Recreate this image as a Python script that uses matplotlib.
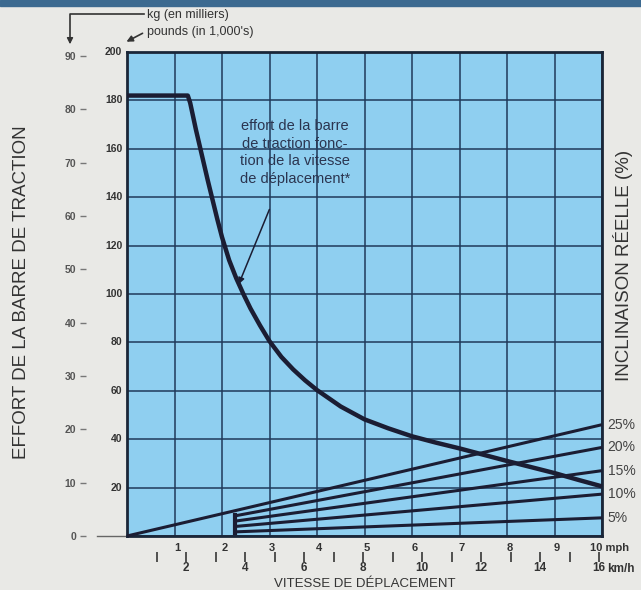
import matplotlib.pyplot as plt
from matplotlib.patches import Rectangle
from matplotlib.lines import Line2D

plt.rcParams['font.family'] = ['Liberation Sans', 'DejaVu Sans']

# effort de la barre de traction (milliers de livres) en fonction de la vitesse (mph)
vitesse_mph = [0, 1.28, 1.33, 1.45, 1.7, 1.9, 2.0, 2.15, 2.3, 2.45, 2.6, 2.8, 3.0, 3.25, 3.5,
               3.75, 4.0, 4.5, 5.0, 5.5, 6.0, 6.5, 7.0, 7.5, 8.0, 8.5, 9.0, 9.5, 10.0]
effort_lb = [182, 182, 179, 168, 147, 131, 123.5, 114, 106.5, 100, 94, 87, 80.5, 74, 68.8,
             64.3, 60.3, 53.5, 48.2, 44.5, 41.2, 38.6, 36.2, 33.6, 31, 28.5, 26, 23.2, 20.5]

# droites d'inclinaison : valeur a 10 mph et debut du trace (mph)
pentes = ["25%", "20%", "15%", "10%", "5%"]
pente_fin = [46.0, 36.6, 27.0, 17.3, 7.5]
pente_debut = [0.0, 2.27, 2.27, 2.27, 2.27]

mph_ticks = [1, 2, 3, 4, 5, 6, 7, 8, 9]
kmh_ticks = list(range(1, 17))
kg_ticks = [0, 10, 20, 30, 40, 50, 60, 70, 80, 90]
lb_ticks = [20, 40, 60, 80, 100, 120, 140, 160, 180, 200]

fig = plt.figure(figsize=(6.41, 5.90), dpi=100, facecolor='#e9e9e6')
ax = fig.add_axes([127 / 641, 54 / 590, 475 / 641, 484 / 590])
ax.set_facecolor('#8fcff0')
ax.set_xlim(0, 10)
ax.set_ylim(0, 200)

# bandeau en haut
fig.patches.append(Rectangle((0, 1 - 6 / 590), 1, 6 / 590, transform=fig.transFigure,
                             color='#3c6a90', zorder=0))

grid_col = '#1f3a5a'
ax.set_xticks(range(0, 11))
ax.set_yticks(range(0, 201, 20))
ax.grid(True, color=grid_col, lw=1.1)
ax.tick_params(length=0, labelbottom=False, labelleft=False)
for s in ax.spines.values():
    s.set_color('#1a2638')
    s.set_linewidth(2)

# courbe effort
ax.plot(vitesse_mph, effort_lb, color='#1b1d33', lw=3.2, solid_capstyle='butt',
        solid_joinstyle='round', zorder=4, clip_on=False)

# droites de pente
for nom, fin, deb in zip(pentes, pente_fin, pente_debut):
    ax.plot([deb, 10], [fin * deb / 10, fin], color='#1b1d33', lw=2.2,
            solid_capstyle='butt', zorder=3, clip_on=False)
    ax.annotate(nom, (10, fin), xytext=(4, 0), textcoords='offset points',
                ha='left', va='center', fontsize=10, color='#444', annotation_clip=False)
ax.plot([pente_debut[1]] * 2, [pente_fin[4] * pente_debut[4] / 10 - 0.5,
                               pente_fin[1] * pente_debut[1] / 10 + 0.5],
        color='#1b1d33', lw=3, zorder=3)

# texte + fleche
ax.text(3.54, 158.5, "effort de la barre\nde traction fonc-\ntion de la vitesse\nde déplacement*",
        ha='center', va='center', fontsize=10.5, color='#2b3550', linespacing=1.35)
ax.annotate("", xy=(2.33, 103), xytext=(3.02, 136),
            arrowprops=dict(arrowstyle='-|>', color='#1b1d33', lw=1.1, mutation_scale=9))

# axe livres
for v in lb_ticks:
    ax.text(-0.1, v, str(v), ha='right', va='center', fontsize=7.5, fontweight='bold',
            color='#333')

# axe kg
kg_ax = ax.secondary_yaxis(-0.0863, functions=(lambda lb: lb / 2.2046, lambda kg: kg * 2.2046))
kg_ax.set_yticks(kg_ticks)
kg_ax.set_yticklabels([str(k) for k in kg_ticks], fontsize=7.5, fontweight='bold', color='#555')
kg_ax.spines['left'].set_visible(False)
kg_ax.tick_params(length=4, width=1, color='#777', pad=3)
ax.add_line(Line2D([-0.063, 0], [0, 0], transform=ax.transAxes, color='#666', lw=1,
                   clip_on=False))

# axe mph
for v in mph_ticks:
    ax.text(v + 0.05, -5, str(v), ha='center', va='center', fontsize=8, fontweight='bold',
            color='#333')
ax.text(9.75, -5, "10 mph", ha='left', va='center', fontsize=8, fontweight='bold',
        color='#333')

# axe km/h
kmh_ax = ax.secondary_xaxis(-0.043, functions=(lambda m: m * 1.609344, lambda k: k / 1.609344))
kmh_ax.set_xticks(kmh_ticks)
kmh_ax.set_xticklabels([str(k) if k % 2 == 0 else "" for k in kmh_ticks],
                       fontsize=8.5, fontweight='bold', color='#333')
kmh_ax.spines['bottom'].set_visible(False)
kmh_ax.tick_params(direction='inout', length=7, width=1.3, color='#444', pad=0)
fig.text(607 / 641, 1 - 569 / 590, "km/h", ha='left', va='center', fontsize=8.5,
         fontweight='bold', color='#333')

# titres des axes
fig.text(22 / 641, 1 - 292 / 590, "EFFORT DE LA BARRE DE TRACTION", rotation=90,
         ha='center', va='center', fontsize=13.5, color='#333')
fig.text(623 / 641, 1 - 265 / 590, "INCLINAISON RÉELLE (%)", rotation=90,
         ha='center', va='center', fontsize=13.5, color='#333')
fig.text(365 / 641, 1 - 584 / 590, "VITESSE DE DÉPLACEMENT", ha='center', va='center',
         fontsize=9.5, color='#333')

# legende des unites en haut a gauche
fig.text(147 / 641, 1 - 15 / 590, "kg (en milliers)", ha='left', va='center', fontsize=9,
         color='#333')
fig.text(147 / 641, 1 - 32 / 590, "pounds (in 1,000's)", ha='left', va='center', fontsize=9,
         color='#333')
fig.add_artist(Line2D([144 / 641, 70 / 641, 70 / 641],
                      [1 - 14 / 590, 1 - 14 / 590, 1 - 40 / 590],
                      transform=fig.transFigure, color='#333', lw=1.2))
ax.annotate("", xy=(70 / 641, 1 - 47 / 590), xytext=(70 / 641, 1 - 38 / 590),
            xycoords='figure fraction', textcoords='figure fraction',
            arrowprops=dict(arrowstyle='-|>', color='#333', lw=1, mutation_scale=9))
ax.annotate("", xy=(124 / 641, 1 - 43 / 590), xytext=(145 / 641, 1 - 32 / 590),
            xycoords='figure fraction', textcoords='figure fraction',
            arrowprops=dict(arrowstyle='-|>', color='#333', lw=1.2, mutation_scale=9))

fig.savefig("out.png", dpi=100, facecolor=fig.get_facecolor())
